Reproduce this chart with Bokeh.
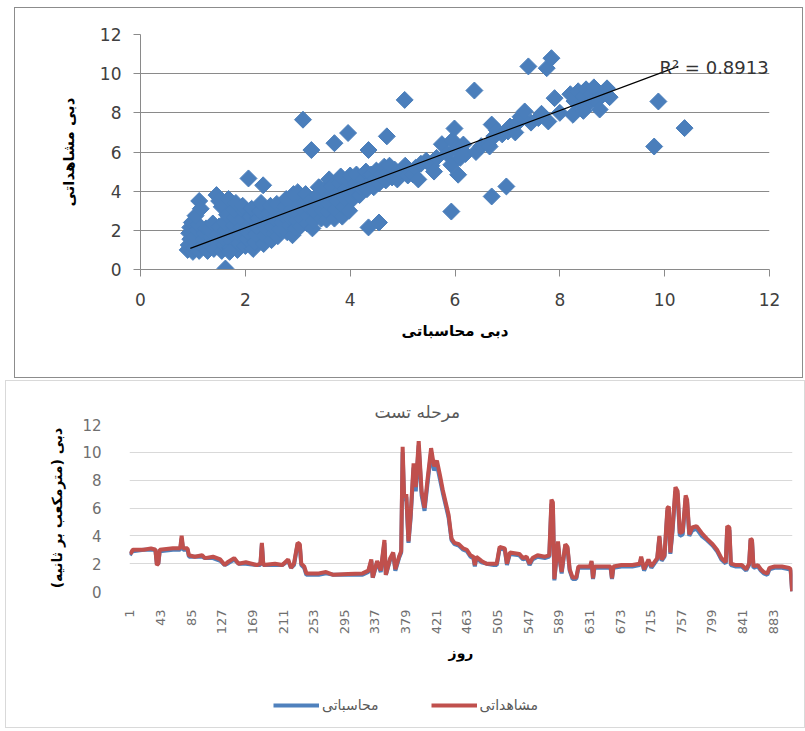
from bokeh.plotting import figure
from bokeh.models import Range1d, FixedTicker, Label, Legend, LegendItem, ColumnDataSource, Title
from bokeh.embed import file_html
from bokeh.resources import INLINE
from math import pi

# ---------------- scatter data (computed discharge vs observed discharge) ----------------
sc_computed = [
    0.90, 0.92, 0.95, 0.93, 0.95, 0.98, 1.00, 1.02, 1.05, 1.03, 1.08, 1.10, 1.05, 1.12, 1.15, 1.12,
    1.18, 1.20, 1.22, 1.25, 1.28, 1.30, 1.35, 1.33, 1.38, 1.40, 1.45, 1.48, 1.45, 1.50, 1.55, 1.50,
    1.55, 1.60, 1.58, 1.62, 1.60, 1.65, 1.62, 1.68, 1.70, 1.72, 1.75, 1.78, 1.80, 1.78, 1.82, 1.85,
    1.88, 1.90, 1.92, 1.95, 1.98, 1.95, 1.70,
    2.00, 2.03, 2.05, 2.08, 2.10, 2.12, 2.06, 2.15, 2.18, 2.20, 2.22, 2.25, 2.28, 2.30, 2.34, 2.35,
    2.38, 2.40, 2.42, 2.45, 2.48, 2.50, 2.55,
    2.52, 2.55, 2.58, 2.60, 2.62, 2.66, 2.70, 2.72, 2.75, 2.78, 2.80, 2.84, 2.86, 2.88, 2.90, 2.92,
    2.90, 2.95, 2.98, 3.00, 3.02, 3.00,
    3.05, 3.08, 3.10, 3.12, 3.15, 3.10, 3.18, 3.20, 3.22, 3.25, 3.26, 3.28, 3.30, 3.33, 3.36, 3.38,
    3.40, 3.45, 3.48, 3.50, 3.50,
    3.55, 3.58, 3.60, 3.62, 3.60, 3.65, 3.70, 3.70, 3.72, 3.75, 3.78, 3.80, 3.82, 3.85, 3.88, 3.90,
    3.92, 3.95, 3.96, 3.98, 4.00, 4.00,
    4.05, 4.08, 4.10, 4.12, 4.18, 4.20, 4.25, 4.30, 4.35, 4.35, 4.32, 4.38, 4.40, 4.45, 4.48, 4.50,
    4.55,
    4.55, 4.60, 4.65, 4.70, 4.68, 4.72, 4.75, 4.80, 4.85, 4.90, 4.95, 5.04, 5.05, 5.10, 5.20, 5.25,
    5.30, 5.35, 5.45, 5.55, 5.60, 5.65,
    5.75, 5.85, 5.93, 5.95, 5.99, 6.02, 6.06, 6.10, 6.16, 6.20, 5.93, 6.37, 6.40, 6.50, 6.63, 6.66,
    6.70, 6.70, 6.75, 6.80, 6.90, 6.98, 7.01, 7.05, 7.15, 7.20, 7.25, 7.33, 7.40, 7.45, 7.59, 7.65,
    7.75, 7.78, 7.84, 7.90, 8.00,
    8.20, 8.28, 8.35, 8.40, 8.45, 8.50, 8.55, 8.60, 8.65, 8.70, 8.80, 8.90, 8.95, 8.25, 8.76, 8.45,
    9.88, 10.38, 9.80,
]
sc_observed = [
    1.00, 1.25, 1.55, 1.85, 2.15, 2.40, 0.90, 1.10, 1.40, 1.70, 2.00, 2.30, 2.75, 3.50, 3.10, 0.95,
    1.20, 1.55, 1.85, 2.10, 0.95, 1.30, 1.65, 2.00, 2.35, 1.05, 1.45, 1.80, 3.80, 3.50, 3.20, 2.20,
    0.95, 1.25, 1.60, 2.00, 2.40, 2.80, 0.05, 3.60, 1.10, 1.50, 1.85, 2.25, 2.65, 3.05, 3.40, 1.00,
    1.35, 1.75, 2.15, 2.55, 2.95, 3.25, 0.90,
    1.20, 1.55, 1.90, 2.30, 2.70, 3.10, 4.65, 1.05, 1.40, 1.80, 2.20, 2.60, 3.00, 3.40, 4.30, 1.30,
    1.70, 2.05, 2.45, 2.85, 3.25, 1.50, 1.85,
    2.20, 2.60, 3.00, 3.35, 1.70, 2.05, 2.40, 2.80, 3.20, 3.60, 1.90, 2.25, 2.65, 3.05, 3.45, 3.85,
    1.75, 2.10, 2.50, 2.90, 3.30, 3.95,
    2.20, 2.60, 3.05, 3.45, 3.85, 7.65, 2.35, 2.75, 3.15, 3.55, 6.10, 2.10, 2.50, 2.95, 3.40, 3.80,
    4.20, 2.60, 3.00, 3.45, 4.05,
    2.55, 2.95, 3.35, 3.80, 4.60, 4.25, 6.45, 2.60, 3.05, 3.50, 3.95, 4.40, 4.75, 2.70, 3.20, 3.65,
    4.10, 4.55, 6.97, 3.00, 3.85, 4.80,
    3.60, 4.00, 4.40, 4.85, 3.80, 4.20, 4.60, 5.00, 2.15, 6.10, 4.10, 4.45, 4.85, 4.20, 4.65, 5.05,
    2.40,
    4.40, 4.85, 5.25, 6.80, 4.55, 4.95, 5.30, 4.70, 5.10, 4.60, 5.00, 8.66, 5.30, 4.80, 4.85, 5.20,
    4.60, 5.40, 5.55, 5.30, 5.00, 5.70,
    6.40, 5.90, 5.35, 6.60, 7.20, 6.20, 4.84, 5.70, 6.38, 5.90, 2.96, 9.14, 6.00, 6.30, 6.38, 6.28,
    7.40, 3.73, 6.80, 7.10, 6.90, 4.24, 7.05, 7.30, 7.00, 7.50, 7.80, 8.07, 10.37, 7.50, 7.73, 7.95,
    10.28, 7.56, 10.79, 8.75, 8.00,
    8.95, 8.60, 9.10, 8.40, 8.85, 9.20, 8.50, 8.95, 9.30, 8.60, 8.90, 9.25, 8.80, 7.90, 8.17, 8.10,
    8.58, 7.22, 6.28,
]
trend_x = [0.95, 10.26]          # extent of the linear trend line
trend_slope = 0.998
trend_intercept = 0.13
r2_text = "R\u00b2 = 0.8913"
scatter_ticks = [0, 2, 4, 6, 8, 10, 12]

# ---------------- test-stage time series ----------------
days = [
    1, 3, 5, 20, 30, 36, 38, 40, 42, 60,
    70, 72, 74, 80, 82, 90, 100, 104, 115, 125,
    131, 135, 144, 150, 160, 175, 180, 182, 184, 200,
    210, 218, 222, 226, 231, 234, 236, 240, 243, 260,
    270, 280, 300, 320, 328, 332, 334, 340, 345, 350,
    352, 358, 362, 365, 370, 373, 375, 377, 380, 383,
    386, 390, 393, 397, 401, 405, 409, 414, 418, 422,
    426, 430, 434, 438, 442, 446, 452, 458, 463, 468,
    472, 474, 476, 483, 490, 500, 504, 508, 515, 518,
    522, 535, 540, 545, 549, 553, 560, 570, 576, 579,
    581, 583, 585, 588, 590, 593, 598, 601, 604, 608,
    613, 616, 632, 634, 636, 638, 660, 662, 664, 675,
    690, 700, 702, 706, 712, 716, 724, 727, 730, 734,
    738, 740, 742, 745, 749, 752, 755, 759, 763, 765,
    768, 772, 778, 785, 792, 800, 806, 812, 818, 820,
    823, 825, 832, 840, 846, 850, 852, 854, 856, 862,
    866, 870, 875, 878, 885, 895, 905, 907, 909,
]
observed = [
    2.7, 2.8, 3.0, 3.0, 3.1, 3.0, 1.9, 2.0, 3.0, 3.1,
    3.1, 4.0, 3.1, 3.1, 2.6, 2.5, 2.6, 2.4, 2.5, 2.3,
    1.9, 2.1, 2.4, 2.0, 2.1, 1.9, 2.0, 3.5, 1.9, 2.0,
    1.9, 2.3, 1.7, 2.0, 3.5, 3.4, 2.0, 1.8, 1.3, 1.3,
    1.4, 1.2, 1.25, 1.3, 1.5, 2.3, 1.0, 2.2, 1.5, 3.7,
    1.2, 2.4, 2.8, 1.6, 2.5, 2.9, 10.4, 6.8, 7.0, 3.6,
    5.5, 9.2, 7.5, 10.8, 7.2, 6.0, 8.0, 10.3, 9.0, 9.4,
    8.4, 7.3, 6.4, 5.5, 3.8, 3.5, 3.4, 3.1, 3.0, 2.6,
    2.5, 1.9, 2.5, 2.2, 2.0, 2.0, 2.0, 3.2, 3.1, 2.0,
    2.8, 2.7, 2.4, 2.5, 2.0, 2.4, 2.6, 2.5, 2.6, 6.6,
    6.4, 0.9, 2.0, 3.6, 2.5, 1.4, 3.4, 3.2, 1.6, 1.0,
    1.0, 1.8, 1.8, 2.2, 0.95, 1.8, 1.8, 0.95, 1.8, 1.9,
    1.9, 2.0, 2.5, 1.6, 2.3, 1.8, 2.4, 4.0, 2.3, 2.6,
    6.0, 6.1, 2.8, 4.5, 7.5, 7.2, 4.2, 4.3, 6.9, 6.6,
    4.1, 4.6, 4.7, 4.2, 3.8, 3.4, 3.0, 2.4, 2.1, 4.7,
    4.6, 2.0, 1.9, 1.9, 1.6, 2.0, 3.8, 3.7, 1.8, 1.9,
    1.6, 1.4, 1.3, 1.7, 1.8, 1.8, 1.7, 1.6, 0.0,
]
computed = [
    2.6, 2.8, 2.9, 3.0, 3.0, 3.0, 2.0, 2.0, 2.9, 3.0,
    3.0, 3.8, 3.0, 3.0, 2.5, 2.5, 2.5, 2.4, 2.4, 2.2,
    1.9, 2.0, 2.3, 2.0, 2.0, 1.9, 1.9, 3.4, 1.9, 1.9,
    1.9, 2.2, 1.7, 1.9, 3.4, 3.3, 1.9, 1.7, 1.2, 1.2,
    1.3, 1.2, 1.2, 1.2, 1.4, 2.2, 1.0, 2.1, 1.4, 3.5,
    1.2, 2.3, 2.7, 1.5, 2.4, 2.8, 10.0, 6.5, 6.8, 3.5,
    5.3, 8.9, 7.2, 10.5, 6.9, 5.8, 7.7, 10.0, 8.7, 9.1,
    8.1, 7.1, 6.2, 5.3, 3.7, 3.4, 3.3, 3.0, 2.9, 2.5,
    2.4, 1.8, 2.4, 2.1, 2.0, 1.9, 1.9, 3.1, 3.0, 1.9,
    2.7, 2.6, 2.3, 2.4, 1.9, 2.3, 2.5, 2.4, 2.5, 6.3,
    6.1, 0.8, 1.9, 3.4, 2.4, 1.3, 3.3, 3.1, 1.5, 0.9,
    0.9, 1.7, 1.7, 2.1, 0.9, 1.7, 1.7, 0.9, 1.7, 1.8,
    1.8, 1.9, 2.4, 1.5, 2.2, 1.7, 2.3, 3.9, 2.2, 2.5,
    5.8, 5.9, 2.7, 4.3, 7.2, 7.0, 4.0, 4.1, 6.7, 6.4,
    4.0, 4.4, 4.5, 4.0, 3.7, 3.3, 2.9, 2.3, 2.0, 4.5,
    4.4, 1.9, 1.8, 1.8, 1.5, 1.9, 3.7, 3.6, 1.7, 1.8,
    1.5, 1.3, 1.2, 1.6, 1.7, 1.7, 1.6, 1.5, 0.0,
]
day_ticks = [1, 43, 85, 127, 169, 211, 253, 295, 337, 379, 421, 463, 505, 547,
             589, 631, 673, 715, 757, 799, 841, 883]
flow_ticks = [0, 2, 4, 6, 8, 10, 12]
n_days = 909

FA = "DejaVu Sans"
BLUE = "#4F81BD"
RED = "#C0504D"

# ================= top: scatter =================
p1 = figure(width=789, height=371, x_range=Range1d(0, 12), y_range=Range1d(0, 12),
            output_backend="svg", toolbar_location=None,
            min_border_left=125, min_border_right=35, min_border_top=26, min_border_bottom=110)
p1.margin = (7, 0, 0, 14)
p1.styles = {"border": "1px solid #8c8c8c"}
p1.outline_line_color = None
p1.xgrid.visible = False
p1.ygrid.grid_line_color = "#8a8a8a"
p1.ygrid.ticker = FixedTicker(ticks=scatter_ticks)
for ax in (p1.xaxis[0], p1.yaxis[0]):
    ax.ticker = FixedTicker(ticks=scatter_ticks)
    ax.axis_line_color = "#8a8a8a"
    ax.major_tick_line_color = "#8a8a8a"
    ax.major_tick_out = 7
    ax.major_tick_in = 0
    ax.minor_tick_line_color = None
    ax.major_label_text_font = FA
    ax.major_label_text_font_size = "17px"
    ax.major_label_text_color = "#404040"
    ax.axis_label_text_font = FA
    ax.axis_label_text_font_style = "bold"
    ax.axis_label_text_font_size = "15px"
    ax.axis_label_text_color = "#000000"
p1.xaxis.axis_label = "دبی محاسباتی"
p1.yaxis.axis_label = "دبی مشاهداتی"
p1.xaxis.major_label_standoff = 16
p1.xaxis.axis_label_standoff = 13
p1.yaxis.major_label_standoff = 12
p1.yaxis.axis_label_standoff = 19

src = ColumnDataSource(dict(x=sc_computed, y=sc_observed))
p1.scatter("x", "y", source=src, marker="square", angle=pi / 4, size=12,
           fill_color="#4A7EBB", line_color="#4A7EBB")
trend_y = [trend_intercept + trend_slope * v for v in trend_x]
p1.line(trend_x, trend_y, color="#000000", line_width=1.2)
p1.add_layout(Label(x=9.9, y=10.3, text=r2_text, text_font=FA, text_font_size="18px",
                    text_color="#333333", text_baseline="alphabetic"))

# ================= bottom: time series =================
p2 = figure(width=800, height=292, x_range=Range1d(0.5, n_days + 0.5), y_range=Range1d(0, 12),
            output_backend="svg", toolbar_location=None,
            min_border_left=123, min_border_right=14, min_border_top=43, min_border_bottom=82)
p2.margin = (2, 0, 0, 5)
p2.styles = {"border-top": "1px solid #d9d9d9", "border-left": "1px solid #d9d9d9",
             "border-right": "1px solid #d9d9d9"}
p2.outline_line_color = None
p2.xgrid.visible = False
p2.ygrid.grid_line_color = "#d9d9d9"
p2.ygrid.ticker = FixedTicker(ticks=flow_ticks)
p2.xaxis.ticker = FixedTicker(ticks=day_ticks)
p2.yaxis.ticker = FixedTicker(ticks=flow_ticks)
for ax in (p2.xaxis[0], p2.yaxis[0]):
    ax.axis_line_color = None
    ax.major_tick_line_color = None
    ax.minor_tick_line_color = None
    ax.major_label_text_font = FA
    ax.major_label_text_color = "#6f6f6f"
    ax.axis_label_text_font = FA
    ax.axis_label_text_font_style = "bold"
    ax.axis_label_text_font_size = "14px"
    ax.axis_label_text_color = "#000000"
p2.xaxis.major_label_orientation = pi / 2
p2.xaxis.major_label_text_font_size = "13px"
p2.yaxis.major_label_text_font_size = "15px"
p2.xaxis.major_label_standoff = 12
p2.yaxis.major_label_standoff = 22
p2.xaxis.axis_label = "روز"
p2.yaxis.axis_label = "دبی (مترمکعب بر ثانیه)"
p2.xaxis.axis_label_standoff = 8
p2.yaxis.axis_label_standoff = 14

r_comp = p2.line(days, computed, color=BLUE, line_width=4)
r_obs = p2.line(days, observed, color=RED, line_width=4)

p2.add_layout(Title(text="مرحله تست", align="left", offset=245, standoff=6,
                    text_font=FA, text_font_size="17px", text_font_style="normal",
                    text_color="#595959"), "above")

# ================= legend strip (bottom of the second chart box) =================
p3 = figure(width=800, height=56, x_range=Range1d(0, 1), y_range=Range1d(0, 1),
            x_axis_type=None, y_axis_type=None,
            output_backend="svg", toolbar_location=None,
            min_border_left=0, min_border_right=0, min_border_top=0, min_border_bottom=0)
p3.margin = (0, 0, 0, 5)
p3.styles = {"border-bottom": "1px solid #d9d9d9", "border-left": "1px solid #d9d9d9",
             "border-right": "1px solid #d9d9d9"}
p3.grid.visible = False
p3.outline_line_color = None
nan = float("nan")
lg_comp = p3.line(x=[nan], y=[nan], color=BLUE, line_width=4)
lg_obs = p3.line(x=[nan], y=[nan], color=RED, line_width=4)
legend = Legend(items=[LegendItem(label="محاسباتی", renderers=[lg_comp]),
                       LegendItem(label="مشاهداتی", renderers=[lg_obs])],
                orientation="horizontal", location=(267, 15),
                background_fill_alpha=0, border_line_color=None,
                label_text_font=FA, label_text_font_size="14px", label_text_color="#595959",
                glyph_width=46, glyph_height=14, label_standoff=3, spacing=52,
                padding=0, margin=0)
p3.add_layout(legend)

open("out.html", "w").write(file_html([p1, p2, p3], INLINE))
